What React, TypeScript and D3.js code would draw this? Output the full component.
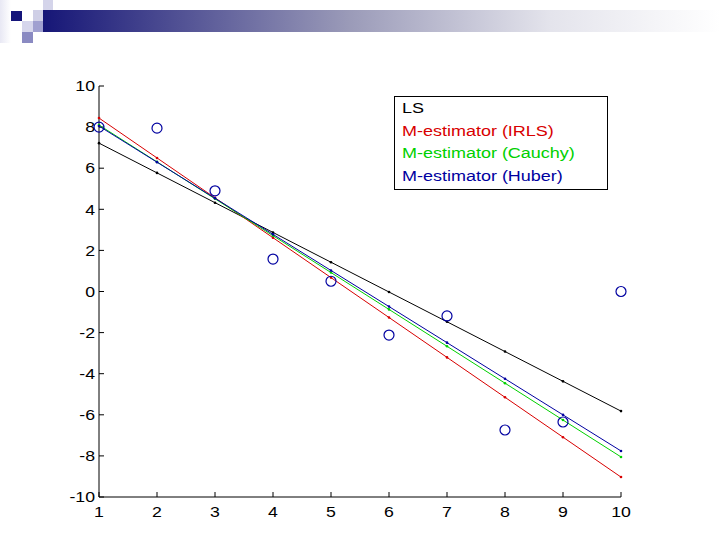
import React from 'react'
import * as d3 from 'd3'

// observed points
const xs = [1, 2, 3, 4, 5, 6, 7, 8, 9, 10]
const ys = [8, 7.95, 4.9, 1.58, 0.5, -2.12, -1.19, -6.74, -6.35, 0]

// fitted lines: value at x=1 and x=10
const fitNames = ['LS', 'M-estimator (IRLS)', 'M-estimator (Cauchy)', 'M-estimator (Huber)']
const fitColors = ['#000000', '#d80000', '#00d000', '#0000a0']
const fitStart = [7.22, 8.44, 8.1, 8.05]
const fitEnd = [-5.82, -9.03, -8.05, -7.76]

const yTicks = [-10, -8, -6, -4, -2, 0, 2, 4, 6, 8, 10]
const xTicks = [1, 2, 3, 4, 5, 6, 7, 8, 9, 10]

const App = () => {
    const width = 720, height = 540
    const x = d3.scaleLinear().domain([1, 10]).range([99, 621])
    const y = d3.scaleLinear().domain([-10, 10]).range([497, 86])
    const font = 'Liberation Sans, Arial, sans-serif'
    const sx = 1.18 // text in the slide is stretched sideways

    return (
        <svg width={width} height={height} style={{ position: 'absolute', left: 0, top: 0, background: '#fff' }}>
            <defs>
                <linearGradient id="bar" x1="0" x2="1" y1="0" y2="0">
                    <stop offset="0" stopColor="#161677" />
                    <stop offset="0.45" stopColor="#9a9ab8" />
                    <stop offset="0.75" stopColor="#e4e4ec" />
                    <stop offset="1" stopColor="#ffffff" />
                </linearGradient>
                <linearGradient id="strip" x1="0" x2="1" y1="0" y2="0">
                    <stop offset="0" stopColor="#e8e8f4" />
                    <stop offset="1" stopColor="#ffffff" />
                </linearGradient>
            </defs>
            {/* header decoration */}
            <rect x={0} y={0} width={11} height={43} fill="url(#strip)" />
            <rect x={43} y={10} width={677} height={22} fill="url(#bar)" />
            <rect x={11} y={11} width={11} height={10} fill="#15157a" />
            <rect x={33} y={10} width={10} height={11} fill="#cfcfe6" />
            <rect x={43} y={0} width={10} height={10} fill="#d4d4ea" />
            <rect x={22} y={21} width={11} height={11} fill="#d6d6ec" />
            <rect x={33} y={21} width={10} height={11} fill="#a0a0d0" />
            <rect x={22} y={32} width={11} height={11} fill="#8a8ac2" />

            {/* axes */}
            <g fontFamily={font} fontSize={15} fill="#000">
                <line x1={x(1)} x2={x(1)} y1={y(10)} y2={y(-10)} stroke="#000" />
                <line x1={x(1)} x2={x(10)} y1={y(-10)} y2={y(-10)} stroke="#000" />
                {yTicks.map(t => (
                    <g key={'y' + t}>
                        <line x1={x(1)} x2={x(1) + 5} y1={y(t)} y2={y(t)} stroke="#000" />
                        <text transform={`translate(${x(1) - 4},${y(t)}) scale(${sx},1)`} dy="0.35em" textAnchor="end">{t}</text>
                    </g>
                ))}
                {xTicks.map(t => (
                    <g key={'x' + t}>
                        <line x1={x(t)} x2={x(t)} y1={y(-10)} y2={y(-10) - 5} stroke="#000" />
                        <text transform={`translate(${x(t)},${y(-10) + 20}) scale(${sx},1)`} textAnchor="middle">{t}</text>
                    </g>
                ))}
            </g>

            {/* fitted lines */}
            {fitNames.map((n, i) => {
                const pts = xs.map(v => [v, fitStart[i] + (fitEnd[i] - fitStart[i]) * (v - 1) / 9])
                const path = d3.line().x(d => x(d[0])).y(d => y(d[1]))(pts as [number, number][])
                return (
                    <g key={n}>
                        <path d={path || ''} fill="none" stroke={fitColors[i]} strokeWidth={1} />
                        {pts.map(p => (
                            <circle key={p[0]} cx={x(p[0])} cy={y(p[1])} r={1.3} fill={fitColors[i]} />
                        ))}
                    </g>
                )
            })}

            {/* data points */}
            {xs.map((v, i) => (
                <circle key={v} cx={x(v)} cy={y(ys[i])} r={5} fill="none" stroke="#0000a0" strokeWidth={1.2} />
            ))}

            {/* legend */}
            <rect x={394.5} y={96.5} width={213} height={93} fill="#fff" stroke="#000" />
            <g fontFamily={font} fontSize={15}>
                {fitNames.map((n, i) => (
                    <text key={n} transform={`translate(402,${113 + i * 22.5}) scale(1.2,1)`} fill={fitColors[i]}>{n}</text>
                ))}
            </g>
        </svg>
    )
}

export default App
